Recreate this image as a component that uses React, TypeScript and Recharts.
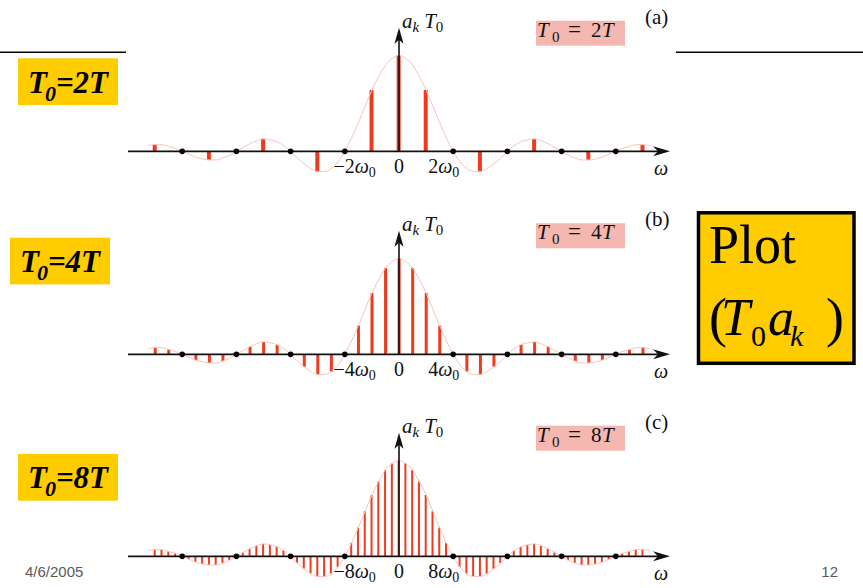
import React from "react";
import {
  ComposedChart,
  Bar,
  Line,
  XAxis,
  YAxis,
  ReferenceLine,
  ReferenceDot,
} from "recharts";

// T0*a_k envelope, sampled every ω0/4 (ω0 of the T0=2T panel), ω from -9.25 to 9.25
const OMEGA_START = -9.25;
const OMEGA_STEP = 0.25;
const envelope = [
  0.06, 0.07, 0.07, 0.05, 0.03, 0, -0.03, -0.06, -0.08, -0.09, -0.09, -0.07, -0.04,
  0, 0.04, 0.08, 0.11, 0.13, 0.12, 0.1, 0.06, 0, -0.07, -0.13, -0.18, -0.21, -0.21,
  -0.18, -0.11, 0, 0.14, 0.3, 0.47, 0.64, 0.78, 0.9, 0.97,
  1.0,
  0.97, 0.9, 0.78, 0.64, 0.47, 0.3, 0.14, 0, -0.11, -0.18, -0.21, -0.21, -0.18, -0.13, -0.07,
  0, 0.06, 0.1, 0.12, 0.13, 0.11, 0.08, 0.04, 0, -0.04, -0.07, -0.09, -0.09, -0.08, -0.06, -0.03,
  0, 0.03, 0.05, 0.07, 0.07, 0.06,
];

const zeroOmegas = [-8, -6, -4, -2, 2, 4, 6, 8];
const tickOmegas = [-2, 0, 2];

const periods = ["2T", "4T", "8T"];
const harmonicSteps = [1, 0.5, 0.25];
const tickMultipliers = ["2", "4", "8"];
const panelTags = ["(a)", "(b)", "(c)"];

const SERIF = "'Liberation Serif', 'DejaVu Serif', serif";
const SANS = "'Liberation Sans', Arial, sans-serif";
const GOLD = "#FFCC00";
const RED = "#EE3B1E";
const ENV = "#F7C4BA";
const PINK = "#F4B8B0";
const INK = "#111";

const PLOT_LEFT = 128;
const PLOT_W = 542;
const CH = 160;
const Y_MIN = -0.32;
const Y_MAX = 1.35;
const ARROW_TIP = 1.29;
const AXIS_Y = [151.7, 354.3, 556.7];
const BAR_W = [4, 3, 2];
const LABEL_BOX = [
  [18, 58.3],
  [10, 237.7],
  [18, 454],
];

function buildRows(step: number) {
  return envelope.map((v, i) => {
    const w = OMEGA_START + i * OMEGA_STEP;
    const n = Math.round(w / step);
    const onGrid = Math.abs(w - n * step) < 1e-6 && Math.abs(w) <= 9;
    return {
      w,
      env: v,
      stem: onGrid && v !== 0 ? v : null,
      zero: zeroOmegas.includes(w) ? 0 : null,
    };
  });
}

const RightArrow = (p: any) => (
  <path
    d={`M${p.cx},${p.cy} L${p.cx - 17},${p.cy - 5} L${p.cx - 12},${p.cy} L${p.cx - 17},${p.cy + 5} Z`}
    fill={INK}
  />
);

const UpArrow = (p: any) => (
  <path
    d={`M${p.cx},${p.cy} L${p.cx - 4.5},${p.cy + 16} L${p.cx},${p.cy + 12} L${p.cx + 4.5},${p.cy + 16} Z`}
    fill={INK}
  />
);

const ZeroDot = (p: any) => {
  if (p.value == null || p.cy == null) return <g key={`z${p.index}`} />;
  return <circle key={`z${p.index}`} cx={p.cx} cy={p.cy} r={2.8} fill="#000" />;
};

function tickShape(w: number, mult: string) {
  return (p: any) => {
    const y = p.cy + 22;
    if (w === 0) {
      return (
        <text x={p.cx} y={y} textAnchor="middle" fontFamily={SERIF} fontSize={20} fill={INK}>
          0
        </text>
      );
    }
    const neg = w < 0;
    return (
      <text
        x={neg ? p.cx + 31 : p.cx - 25}
        y={y}
        textAnchor={neg ? "end" : "start"}
        fontFamily={SERIF}
        fontSize={20}
        fill={INK}
      >
        {neg ? "\u2212" : ""}
        {mult}
        <tspan fontStyle="italic">ω</tspan>
        <tspan fontSize={14} dy={4}>0</tspan>
      </text>
    );
  };
}

const OmegaLabel = (p: any) => (
  <text x={p.cx - 9} y={p.cy + 24} textAnchor="middle" fontFamily={SERIF} fontStyle="italic" fontSize={20} fill={INK}>
    ω
  </text>
);

function Panel({ idx }: { idx: number }) {
  const rows = buildRows(harmonicSteps[idx]);
  const top = AXIS_Y[idx] - Y_MAX * (CH / (Y_MAX - Y_MIN));
  return (
    <div style={{ position: "absolute", left: PLOT_LEFT, top, width: PLOT_W, height: CH }}>
      <ComposedChart width={PLOT_W} height={CH} data={rows} margin={{ top: 0, right: 0, bottom: 0, left: 0 }}>
        <XAxis type="number" dataKey="w" domain={[-10, 10]} hide />
        <YAxis type="number" domain={[Y_MIN, Y_MAX]} hide />
        <Line
          dataKey="env"
          type="monotone"
          stroke={ENV}
          strokeWidth={1}
          dot={false}
          activeDot={false}
          isAnimationActive={false}
        />
        <Bar dataKey="stem" fill={RED} barSize={BAR_W[idx]} isAnimationActive={false} />
        <ReferenceLine segment={[{ x: -10, y: 0 }, { x: 9.6, y: 0 }]} stroke={INK} strokeWidth={1.6} />
        <ReferenceLine segment={[{ x: 0, y: 0 }, { x: 0, y: 1.18 }]} stroke={INK} strokeWidth={1.6} />
        <Line
          dataKey="zero"
          stroke="none"
          dot={ZeroDot}
          activeDot={false}
          isAnimationActive={false}
        />
        <ReferenceDot x={10} y={0} r={0} shape={RightArrow} />
        <ReferenceDot x={10} y={0} r={0} shape={OmegaLabel} />
        <ReferenceDot x={0} y={ARROW_TIP} r={0} shape={UpArrow} />
        {tickOmegas.map((t) => (
          <ReferenceDot key={t} x={t} y={0} r={0} shape={tickShape(t, tickMultipliers[idx])} />
        ))}
      </ComposedChart>
    </div>
  );
}

function PanelText({ idx }: { idx: number }) {
  const a = AXIS_Y[idx];
  return (
    <g fontFamily={SERIF} fill={INK}>
      <text x={402} y={a - 123.5} fontSize={21}>
        <tspan fontStyle="italic">a</tspan>
        <tspan fontStyle="italic" fontSize={15} dy={4}>k</tspan>
        <tspan fontStyle="italic" dx={5} dy={-4}>T</tspan>
        <tspan fontSize={15} dy={4}>0</tspan>
      </text>
      <rect x={536} y={a - 131} width={89} height={25} fill={PINK} />
      <text x={537} y={a - 115} fontSize={21} fontStyle="italic">T</text>
      <text x={552} y={a - 110} fontSize={15}>0</text>
      <text x={568} y={a - 115} fontSize={23}>=</text>
      <text x={591} y={a - 115} fontSize={21}>{periods[idx].slice(0, 1)}</text>
      <text x={602} y={a - 115} fontSize={21} fontStyle="italic">T</text>
      <text x={645} y={a - 128} fontSize={21}>{panelTags[idx]}</text>
    </g>
  );
}

function SideLabel({ idx }: { idx: number }) {
  const [x, y] = LABEL_BOX[idx];
  return (
    <g>
      <rect x={x} y={y} width={100} height={46.7} fill={GOLD} />
      <text x={x + 10} y={y + 34.4} fontFamily={SERIF} fontWeight="bold" fontStyle="italic" fontSize={31} fill="#000">
        T
        <tspan fontSize={22} dx={-2} dy={8}>0</tspan>
        <tspan dy={-8}>={periods[idx]}</tspan>
      </text>
    </g>
  );
}

export default function App() {
  return (
    <div
      style={{
        position: "absolute",
        left: 0,
        top: 0,
        width: 863,
        height: 588,
        overflow: "hidden",
        background: "#fff",
      }}
    >
      {[0, 1, 2].map((i) => (
        <Panel key={i} idx={i} />
      ))}
      <svg
        width={863}
        height={588}
        style={{ position: "absolute", left: 0, top: 0, pointerEvents: "none" }}
      >
        <line x1={0} y1={52.3} x2={126} y2={52.3} stroke="#000" strokeWidth={1.5} />
        <line x1={676} y1={52.3} x2={863} y2={52.3} stroke="#000" strokeWidth={1.5} />
        {[0, 1, 2].map((i) => (
          <PanelText key={i} idx={i} />
        ))}
        {[0, 1, 2].map((i) => (
          <SideLabel key={i} idx={i} />
        ))}
        <rect x={698.5} y={212.8} width={155.5} height={150.5} fill={GOLD} stroke="#000" strokeWidth={3.5} />
        <g fontFamily={SERIF} fill="#000">
          <text x={709} y={263} fontSize={54}>Plot</text>
          <text x={709} y={336} fontSize={54}>(</text>
          <text x={721} y={335} fontSize={52} fontStyle="italic">T</text>
          <text x={751} y={346} fontSize={30}>0</text>
          <text x={768} y={335} fontSize={52} fontStyle="italic">a</text>
          <text x={790} y={346} fontSize={30} fontStyle="italic">k</text>
          <text x={826} y={336} fontSize={54}>)</text>
        </g>
        <text x={25} y={577} fontFamily={SANS} fontSize={15} fill="#595959">4/6/2005</text>
        <text x={838} y={577} textAnchor="end" fontFamily={SANS} fontSize={15} fill="#595959">12</text>
      </svg>
    </div>
  );
}
